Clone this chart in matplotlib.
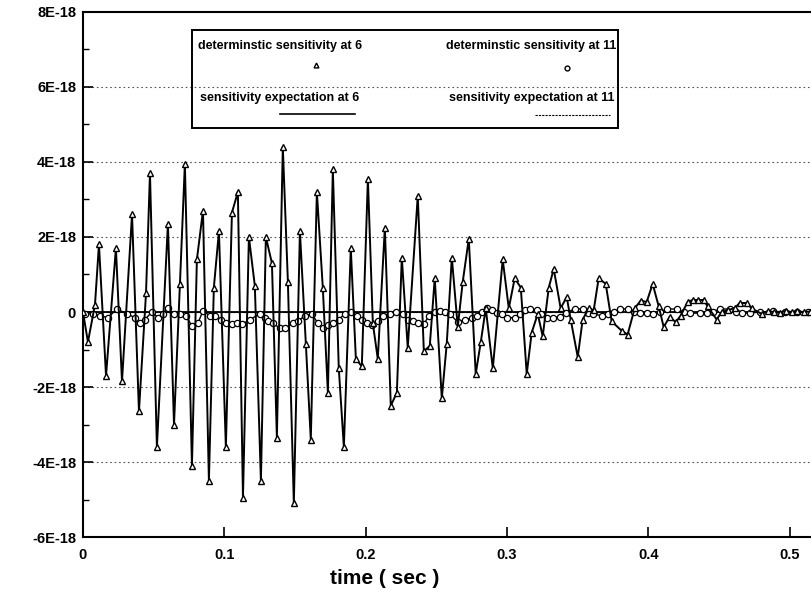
import matplotlib
matplotlib.use("Agg")
import matplotlib.pyplot as plt
from matplotlib.lines import Line2D
from matplotlib.patches import Rectangle
from matplotlib.ticker import MultipleLocator, FixedLocator

plt.rcParams['font.family'] = ['Liberation Sans', 'DejaVu Sans']
plt.rcParams['font.weight'] = 'bold'

# deterministic sensitivity at 6 (triangles), time in sec, value in 1E-18
t_det6 = [0.0, 0.0035, 0.0085, 0.0113, 0.0163, 0.0233, 0.0276, 0.0347, 0.0396, 0.0446,
          0.0474, 0.0523, 0.0601, 0.0644, 0.0686, 0.0721, 0.0771, 0.0806, 0.0849, 0.0891,
          0.0926, 0.0962, 0.1011, 0.1054, 0.1096, 0.1132, 0.1174, 0.1216, 0.1259, 0.1294,
          0.1337, 0.1372, 0.1414, 0.1450, 0.1492, 0.1535, 0.1577, 0.1612, 0.1655, 0.1697,
          0.1733, 0.1768, 0.1810, 0.1846, 0.1895, 0.1931, 0.1973, 0.2016, 0.2051, 0.2086,
          0.2136, 0.2178, 0.2221, 0.2256, 0.2298, 0.2369, 0.2412, 0.2454, 0.2489, 0.2539,
          0.2574, 0.2610, 0.2652, 0.2687, 0.2730, 0.2779, 0.2815, 0.2850, 0.2900, 0.2970,
          0.3013, 0.3055, 0.3098, 0.3140, 0.3175, 0.3218, 0.3253, 0.3296, 0.3331, 0.3380,
          0.3423, 0.3451, 0.3501, 0.3536, 0.3579, 0.3614, 0.3649, 0.3699, 0.3741, 0.3812,
          0.3854, 0.3904, 0.3946, 0.3989, 0.4031, 0.4074, 0.4109, 0.4151, 0.4194, 0.4229,
          0.4279, 0.4314, 0.4349, 0.4392, 0.4420, 0.4484, 0.4519, 0.4562, 0.4611, 0.4646,
          0.4696, 0.4731, 0.4802, 0.4844, 0.4887, 0.4929, 0.4972, 0.5014, 0.5056, 0.5099,
          0.5141]
v_det6 = [0.0, -0.8, 0.2, 1.8, -1.7, 1.7, -1.85, 2.6, -2.65, 0.5,
          3.7, -3.6, 2.35, -3.0, 0.75, 3.95, -4.1, 1.4, 2.7, -4.5,
          0.65, 2.15, -3.6, 2.65, 3.2, -4.95, 2.0, 0.7, -4.5, 2.0,
          1.3, -3.35, 4.4, 0.8, -5.1, 2.15, -0.85, -3.4, 3.2, 0.65,
          -2.15, 3.8, -1.5, -3.6, 1.7, -1.25, -1.45, 3.55, -0.3, -1.25,
          2.25, -2.5, -2.15, 1.45, -0.95, 3.1, -1.05, -0.9, 0.9, -2.3,
          -0.85, 1.45, -0.4, 0.8, 1.95, -1.65, -0.8, 0.1, -1.5, 1.4,
          0.1, 0.9, 0.65, -1.65, -0.55, -0.05, -0.65, 0.65, 1.15, 0.1,
          0.4, -0.2, -1.2, -0.2, 0.1, 0.05, 0.9, 0.75, -0.25, -0.5,
          -0.6, 0.1, 0.3, 0.27, 0.75, 0.15, -0.4, -0.13, -0.27, -0.1,
          0.27, 0.32, 0.32, 0.32, 0.15, -0.2, 0.0, 0.05, 0.1, 0.24,
          0.24, 0.1, -0.05, 0.02, 0.0, -0.02, 0.03, 0.0, 0.02, 0.0,
          0.01]

# deterministic sensitivity at 11 (circles)
t_det11 = [0.0014, 0.0071, 0.0120, 0.0177, 0.0240, 0.0311, 0.0368, 0.0403, 0.0438, 0.0488,
           0.0530, 0.0566, 0.0601, 0.0643, 0.0686, 0.0728, 0.0771, 0.0813, 0.0849, 0.0898,
           0.0934, 0.0976, 0.1011, 0.1054, 0.1089, 0.1124, 0.1181, 0.1252, 0.1287, 0.1308,
           0.1344, 0.1393, 0.1429, 0.1485, 0.1520, 0.1570, 0.1620, 0.1662, 0.1697, 0.1733,
           0.1768, 0.1810, 0.1853, 0.1895, 0.1938, 0.1973, 0.2008, 0.2044, 0.2086, 0.2122,
           0.2171, 0.2214, 0.2263, 0.2298, 0.2334, 0.2369, 0.2412, 0.2447, 0.2489, 0.2525,
           0.2560, 0.2595, 0.2652, 0.2702, 0.2751, 0.2787, 0.2822, 0.2857, 0.2893, 0.2928,
           0.2963, 0.2999, 0.3055, 0.3091, 0.3126, 0.3161, 0.3211, 0.3239, 0.3281, 0.3324,
           0.3373, 0.3416, 0.3479, 0.3536, 0.3571, 0.3607, 0.3670, 0.3713, 0.3755, 0.3798,
           0.3854, 0.3897, 0.3939, 0.3989, 0.4031, 0.4080, 0.4130, 0.4201, 0.4250, 0.4293,
           0.4363, 0.4413, 0.4455, 0.4505, 0.4576, 0.4618, 0.4660, 0.4717, 0.4788, 0.4880,
           0.4965, 0.5049, 0.5127]
v_det11 = [-0.05, -0.05, -0.1, -0.15, 0.08, -0.05, -0.15, -0.3, -0.2, 0.0,
           -0.15, -0.05, 0.1, -0.05, -0.05, -0.1, -0.37, -0.3, 0.03, -0.1,
           -0.1, -0.2, -0.3, -0.33, -0.3, -0.33, -0.2, -0.05, -0.15, -0.25,
           -0.3, -0.43, -0.43, -0.3, -0.25, -0.1, -0.05, -0.3, -0.43, -0.35,
           -0.3, -0.2, -0.05, 0.0, -0.1, -0.2, -0.3, -0.35, -0.25, -0.1,
           -0.05, 0.0, -0.05, -0.2, -0.25, -0.3, -0.33, -0.1, 0.0, 0.03,
           0.0, -0.05, -0.27, -0.2, -0.17, -0.1, 0.0, 0.1, 0.05, -0.02,
           -0.05, -0.15, -0.15, -0.05, 0.05, 0.08, 0.05, -0.05, -0.15, -0.17,
           -0.12, -0.02, 0.08, 0.08, -0.02, -0.05, -0.1, -0.05, 0.0, 0.08,
           0.08, 0.0, -0.03, -0.03, -0.05, 0.0, 0.08, 0.08, 0.0, -0.03,
           -0.03, -0.03, 0.0, 0.08, 0.08, 0.0, -0.03, -0.03, 0.0, 0.02,
           0.0, 0.0, 0.0]

# sensitivity expectations (flat, about zero)
t_expect = [0.0, 0.52]
v_expect6 = [0.0, 0.0]
v_expect11 = [0.0, 0.0]

y_ticks = [-6, -4, -2, 0, 2, 4, 6, 8]
y_ticklabels = ['-6E-18', '-4E-18', '-2E-18', '0', '2E-18', '4E-18', '6E-18', '8E-18']
x_ticks = [0, 0.1, 0.2, 0.3, 0.4, 0.5]
x_ticklabels = ['0', '0.1', '0.2', '0.3', '0.4', '0.5']

legend_labels = ['determinstic sensitivity at 6', 'determinstic sensitivity at 11',
                 'sensitivity expectation at 6', 'sensitivity expectation at 11']


def main():
    fig = plt.figure(figsize=(8.12, 5.93), dpi=100)
    ax = fig.add_axes([0.1022, 0.0944, 0.905, 0.8854])

    for y in y_ticks[1:-1]:
        ax.axhline(y, color='#555555', lw=0.8, ls=(0, (1.5, 2.5)), zorder=1)

    ax.plot(t_expect, v_expect6, color='black', lw=1.3, zorder=2)
    ax.plot(t_expect, v_expect11, color='black', lw=0.8, ls='--', zorder=2)
    ax.plot(t_det11, v_det11, color='black', lw=1.0, marker='o', ms=4.5,
            mfc='white', mec='black', mew=0.9, zorder=3)
    ax.plot(t_det6, v_det6, color='black', lw=1.4, marker='^', ms=5,
            mfc='white', mec='black', mew=1.0, zorder=4)

    ax.set_xlim(0, 0.52)
    ax.set_ylim(-6, 8)
    ax.yaxis.set_major_locator(FixedLocator(y_ticks))
    ax.set_yticklabels(y_ticklabels)
    ax.yaxis.set_minor_locator(MultipleLocator(1))
    ax.xaxis.set_major_locator(FixedLocator(x_ticks))
    ax.set_xticklabels(x_ticklabels)
    ax.tick_params(axis='both', which='major', direction='in', length=7, width=1.2,
                   labelsize=10.5, pad=5)
    ax.tick_params(axis='y', which='minor', direction='in', length=4, width=1.0)
    ax.tick_params(axis='x', pad=8)
    for lab in ax.get_xticklabels() + ax.get_yticklabels():
        lab.set_fontweight('bold')
    for side in ['left', 'bottom', 'top']:
        ax.spines[side].set_linewidth(1.5)
    ax.spines['right'].set_visible(False)

    fig.text(385 / 812, 1 - 578 / 593, 'time ( sec )', ha='center', va='center',
             fontsize=15, fontweight='bold')

    # legend box drawn by hand: each label sits above its sample
    tr = ax.transAxes
    ax.add_patch(Rectangle((0.148, 0.779), 0.58, 0.187, transform=tr, fill=False,
                           lw=1.4, edgecolor='black', zorder=5))
    col1, col2 = 0.268, 0.61
    ty1, ty2 = 0.935, 0.836
    kw = dict(transform=tr, ha='center', va='center', fontsize=9, fontweight='bold', zorder=6)
    ax.text(col1, ty1, legend_labels[0], **kw)
    ax.text(col2, ty1, legend_labels[1], **kw)
    ax.text(col1, ty2, legend_labels[2], **kw)
    ax.text(col2, ty2, legend_labels[3], **kw)
    ax.add_line(Line2D([0.317], [0.899], transform=tr, marker='^', ms=3.5,
                       mfc='white', mec='black', ls='none', zorder=6))
    ax.add_line(Line2D([0.659], [0.893], transform=tr, marker='o', ms=3.5,
                       mfc='white', mec='black', ls='none', zorder=6))
    ax.add_line(Line2D([0.268, 0.370], [0.806, 0.806], transform=tr,
                       color='black', lw=1.2, zorder=6))
    ax.add_line(Line2D([0.615, 0.717], [0.804, 0.804], transform=tr,
                       color='black', lw=0.8, ls=(0, (2, 1)), zorder=6))

    fig.savefig('out.png', dpi=100)


if __name__ == '__main__':
    main()
